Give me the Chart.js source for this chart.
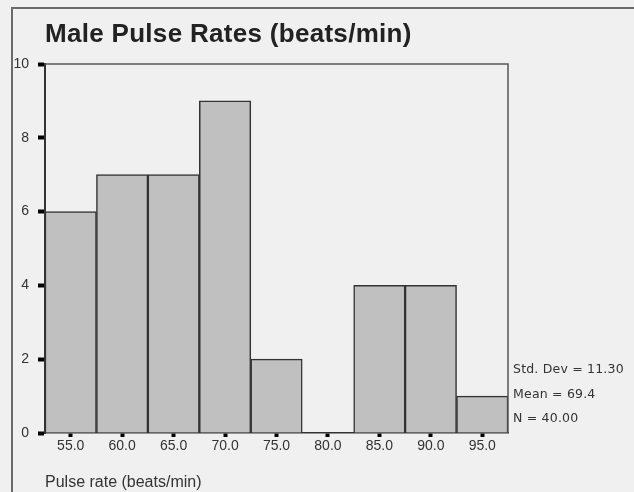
<!DOCTYPE html>
<html>
<head>
<meta charset="utf-8">
<script src="https://cdn.jsdelivr.net/npm/chart.js@4/dist/chart.umd.min.js"></script>
<style>
  html, body { margin: 0; padding: 0; background: #f0f0f0; }
  #wrap { position: relative; width: 634px; height: 492px; }
  #frame { position: absolute; left: 11px; top: 7px; right: -4px; bottom: -4px;
           border-left: 2px solid #6a6a6a; border-top: 2px solid #6a6a6a; }
  canvas { position: absolute; left: 0; top: 0; }
</style>
</head>
<body>
<div id="wrap">
  <div id="frame"></div>
  <canvas id="histChart" width="634" height="492"></canvas>
</div>
<script>
// data
const categories = ['55.0', '60.0', '65.0', '70.0', '75.0', '80.0', '85.0', '90.0', '95.0'];
const counts = [6, 7, 7, 9, 2, 0, 4, 4, 1];
const yTicks = [0, 2, 4, 6, 8, 10];
const statLines = ['Std. Dev = 11.30', 'Mean = 69.4', 'N = 40.00'];
const chartTitle = 'Male Pulse Rates (beats/min)';
const xTitle = 'Pulse rate (beats/min)';

const FONT = '"Liberation Sans", Arial, sans-serif';

// frame around plot area, title and the stats text at the right
const extras = {
    id: 'extras',
    afterDraw(chart) {
        const ctx = chart.ctx;
        const a = chart.chartArea;
        ctx.save();
        ctx.strokeStyle = '#555';
        ctx.lineWidth = 1.5;
        ctx.beginPath();
        ctx.moveTo(a.left, a.top);
        ctx.lineTo(a.right, a.top);
        ctx.lineTo(a.right, a.bottom);
        ctx.stroke();

        ctx.fillStyle = '#222';
        ctx.font = 'bold 26px ' + FONT;
        ctx.letterSpacing = '0.3px';
        ctx.textBaseline = 'alphabetic';
        ctx.textAlign = 'left';
        ctx.fillText(chartTitle, a.left, 42);

        ctx.fillStyle = '#333';
        ctx.font = '12.5px "DejaVu Sans", sans-serif';
        ctx.letterSpacing = '0.2px';
        ctx.textBaseline = 'middle';
        statLines.forEach((t, i) => {
            ctx.fillText(t, a.right + 5, 370 + i * 24.5);
        });
        ctx.restore();
    }
};

const ctx = document.getElementById('histChart').getContext('2d');
const myChart = new Chart(ctx, {
    type: 'bar',
    data: {
        labels: categories,
        datasets: [{
            data: counts,
            backgroundColor: '#c0c0c0',
            borderColor: '#333',
            borderWidth: 1.5,
            borderSkipped: 'bottom',
            categoryPercentage: 1,
            barPercentage: 1
        }]
    },
    options: {
        responsive: false,
        animation: false,
        layout: { padding: { left: 0, top: 64, right: 126, bottom: 0 } },
        plugins: {
            legend: { display: false },
            title: { display: false },
            tooltip: { enabled: false }
        },
        scales: {
            x: {
                offset: true,
                afterFit(scale) { scale.height = 59; },
                grid: {
                    offset: false,
                    drawOnChartArea: false,
                    drawTicks: true,
                    tickLength: 4,
                    tickWidth: 4,
                    tickColor: '#000'
                },
                border: { display: true, color: '#333', width: 1.5 },
                ticks: { color: '#333', font: { family: FONT, size: 14 }, padding: 1, maxRotation: 0 },
                title: {
                    display: true,
                    text: xTitle,
                    align: 'start',
                    color: '#333',
                    font: { family: FONT, size: 16 },
                    padding: { top: 0, bottom: 0 }
                }
            },
            y: {
                min: 0,
                max: 10,
                afterFit(scale) { scale.width = 45; },
                afterBuildTicks(scale) { scale.ticks = yTicks.map(v => ({ value: v })); },
                grid: {
                    drawOnChartArea: false,
                    drawTicks: true,
                    tickLength: 7,
                    tickWidth: 4,
                    tickColor: '#000'
                },
                border: { display: true, color: '#333', width: 2 },
                ticks: { color: '#333', font: { family: FONT, size: 14 }, padding: 9 }
            }
        }
    },
    plugins: [extras]
});
</script>
</body>
</html>
